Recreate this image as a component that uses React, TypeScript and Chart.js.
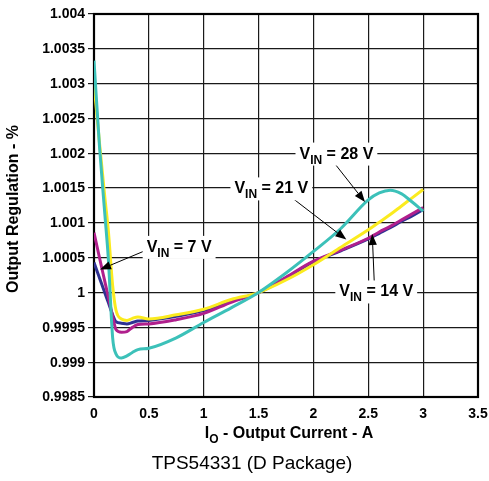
import React, { useEffect, useRef } from 'react';
import { Chart, registerables } from 'chart.js';

Chart.register(...registerables);

// Output current (A)
const currents = [0, 0.05, 0.1, 0.13, 0.17, 0.2, 0.25, 0.3, 0.35, 0.4, 0.5, 0.75, 1, 1.25, 1.5, 1.75, 2, 2.25, 2.5, 2.6, 2.7, 2.8, 2.9, 3];

// Output regulation series (%)
const vin28 = [1.00333, 1.0021, 1.0011, 1.0005, 0.99935, 0.99912, 0.99906, 0.99909, 0.99914, 0.99918, 0.9992, 0.99935, 0.99957, 0.99978, 1.0, 1.00028, 1.00059, 1.00092, 1.00133, 1.00143, 1.00147, 1.00142, 1.0013, 1.00117];
const vin21 = [1.003, 1.00215, 1.00135, 1.0009, 1.0001, 0.99975, 0.99962, 0.9996, 0.99963, 0.99965, 0.99962, 0.99968, 0.99976, 0.9999, 1.0, 1.00018, 1.0004, 1.00065, 1.0009, 1.00101, 1.00112, 1.00124, 1.00136, 1.00148];
const vin7 = [1.00043, 1.00021, 0.99999, 0.99986, 0.99968, 0.99958, 0.99956, 0.99955, 0.99957, 0.99959, 0.9996, 0.99966, 0.99974, 0.99988, 1.0, 1.00021, 1.00044, 1.0006, 1.00077, 1.00085, 1.00093, 1.00102, 1.0011, 1.00119];
const vin14 = [1.00086, 1.0005, 1.00015, 0.99994, 0.99966, 0.99947, 0.99943, 0.99944, 0.9995, 0.99954, 0.99955, 0.99961, 0.9997, 0.99986, 1.0, 1.00022, 1.00045, 1.00061, 1.00078, 1.00087, 1.00095, 1.00104, 1.00113, 1.00122];

const xTickValues = [0, 0.5, 1, 1.5, 2, 2.5, 3, 3.5];
const xTickLabels = ['0', '0.5', '1', '1.5', '2', '2.5', '3', '3.5'];
const yTickValues = [0.9985, 0.999, 0.9995, 1, 1.0005, 1.001, 1.0015, 1.002, 1.0025, 1.003, 1.0035, 1.004];
const yTickLabels = ['0.9985', '0.999', '0.9995', '1', '1.0005', '1.001', '1.0015', '1.002', '1.0025', '1.003', '1.0035', '1.004'];

// Callouts: label, text left/center (data units), arrow tail and head (data units)
const calloutLabels = ['7 V', '21 V', '28 V', '14 V'];
const calloutTextX = [0.48, 1.28, 1.873, 2.236];
const calloutTextY = [1.00067, 1.00151, 1.00201, 1.00003];
const calloutTailX = [0.464, 1.78, 2.19, 2.555];
const calloutTailY = [1.0006, 1.00139, 1.00186, 1.00013];
const calloutHeadX = [0.055, 2.3, 2.47, 2.536];
const calloutHeadY = [1.00033, 1.00076, 1.0013, 1.00084];

const FONT = '"Liberation Sans", Arial, Helvetica, sans-serif';

function drawArrow(ctx: CanvasRenderingContext2D, x1: number, y1: number, x2: number, y2: number) {
  const ang = Math.atan2(y2 - y1, x2 - x1);
  const len = 11;
  const hw = 4.2;
  const bx = x2 - len * Math.cos(ang);
  const by = y2 - len * Math.sin(ang);
  ctx.strokeStyle = '#000';
  ctx.lineWidth = 1;
  ctx.beginPath();
  ctx.moveTo(x1, y1);
  ctx.lineTo(bx, by);
  ctx.stroke();
  ctx.fillStyle = '#000';
  ctx.beginPath();
  ctx.moveTo(x2, y2);
  ctx.lineTo(bx + hw * Math.sin(ang), by - hw * Math.cos(ang));
  ctx.lineTo(bx - hw * Math.sin(ang), by + hw * Math.cos(ang));
  ctx.closePath();
  ctx.fill();
}

function drawVin(ctx: CanvasRenderingContext2D, x: number, yMid: number, rest: string) {
  const big = `bold 16px ${FONT}`;
  const small = `bold 12px ${FONT}`;
  ctx.font = big;
  const wV = ctx.measureText('V').width;
  const restText = ' = ' + rest;
  const wRest = ctx.measureText(restText).width;
  ctx.font = small;
  const wIN = ctx.measureText('IN').width;
  const total = wV + wIN + wRest;
  ctx.fillStyle = '#fff';
  ctx.fillRect(x - 4, yMid - 10, total + 8, 23);
  ctx.fillStyle = '#000';
  ctx.textAlign = 'left';
  ctx.textBaseline = 'alphabetic';
  const base = yMid + 6;
  ctx.font = big;
  ctx.fillText('V', x, base);
  ctx.font = small;
  ctx.fillText('IN', x + wV, base + 5);
  ctx.font = big;
  ctx.fillText(restText, x + wV + wIN, base);
}

const decorPlugin = {
  id: 'decor',
  beforeDatasetsDraw(chart: any) {
    const { ctx, chartArea } = chart;
    ctx.save();
    ctx.strokeStyle = '#000';
    ctx.lineWidth = 2.2;
    ctx.strokeRect(chartArea.left, chartArea.top, chartArea.right - chartArea.left, chartArea.bottom - chartArea.top);
    ctx.restore();
  },
  afterDraw(chart: any) {
    const { ctx, chartArea } = chart;
    const xs = chart.scales.x;
    const ys = chart.scales.y;
    ctx.save();
    ctx.fillStyle = '#000';
    // y tick labels
    ctx.font = `bold 14px ${FONT}`;
    ctx.textAlign = 'right';
    ctx.textBaseline = 'middle';
    yTickValues.forEach((v, i) => {
      ctx.fillText(yTickLabels[i], chartArea.left - 9, ys.getPixelForValue(v) + 0.5);
    });
    // x tick labels
    ctx.textAlign = 'center';
    ctx.textBaseline = 'alphabetic';
    xTickValues.forEach((v, i) => {
      ctx.fillText(xTickLabels[i], xs.getPixelForValue(v), chartArea.bottom + 20.5);
    });
    // x title with subscript
    const big = `bold 16px ${FONT}`;
    const small = `bold 12px ${FONT}`;
    ctx.font = big;
    const wI = ctx.measureText('I').width;
    const rest = ' - Output Current - A';
    const wRest = ctx.measureText(rest).width;
    ctx.font = small;
    const wO = ctx.measureText('O').width;
    const total = wI + wO + wRest;
    const cx = (chartArea.left + chartArea.right) / 2 + 3;
    const tx = cx - total / 2;
    const tb = chartArea.bottom + 41;
    ctx.textAlign = 'left';
    ctx.font = big;
    ctx.fillText('I', tx, tb);
    ctx.font = small;
    ctx.fillText('O', tx + wI, tb + 5);
    ctx.font = big;
    ctx.fillText(rest, tx + wI + wO, tb);
    // caption
    ctx.font = `19px ${FONT}`;
    ctx.textAlign = 'center';
    ctx.fillText('TPS54331 (D Package)', 252, chartArea.bottom + 72);
    // y title
    ctx.save();
    ctx.translate(14, 209);
    ctx.rotate(-Math.PI / 2);
    ctx.font = `bold 16px ${FONT}`;
    ctx.textAlign = 'center';
    ctx.textBaseline = 'middle';
    ctx.fillText('Output Regulation - %', 0, 0);
    ctx.restore();
    // callouts
    calloutLabels.forEach((lab, i) => {
      drawArrow(
        ctx,
        xs.getPixelForValue(calloutTailX[i]),
        ys.getPixelForValue(calloutTailY[i]),
        xs.getPixelForValue(calloutHeadX[i]),
        ys.getPixelForValue(calloutHeadY[i])
      );
    });
    calloutLabels.forEach((lab, i) => {
      drawVin(ctx, xs.getPixelForValue(calloutTextX[i]), ys.getPixelForValue(calloutTextY[i]), lab);
    });
    ctx.restore();
  },
};

function toPoints(vals: number[]) {
  return currents.map((c, i) => ({ x: c, y: vals[i] }));
}

export default function App() {
  const ref = useRef<HTMLCanvasElement | null>(null);
  useEffect(() => {
    if (!ref.current) return;
    const common = {
      borderWidth: 3,
      pointRadius: 0,
      fill: false,
      cubicInterpolationMode: 'monotone' as const,
    };
    const chart = new Chart(ref.current, {
      type: 'line',
      data: {
        datasets: [
          { label: 'VIN = 28 V', data: toPoints(vin28), borderColor: '#3cc1b9', ...common },
          { label: 'VIN = 21 V', data: toPoints(vin21), borderColor: '#fbeb1e', ...common },
          { label: 'VIN = 14 V', data: toPoints(vin14), borderColor: '#b01f8d', ...common },
          { label: 'VIN = 7 V', data: toPoints(vin7), borderColor: '#2e3192', ...common },
        ],
      },
      options: {
        responsive: false,
        animation: false,
        devicePixelRatio: 1,
        layout: { padding: { top: 14, right: 11, left: 0, bottom: 0 } },
        plugins: { legend: { display: false }, tooltip: { enabled: false } },
        scales: {
          x: {
            type: 'linear',
            min: 0,
            max: 3.5,
            afterBuildTicks: (s: any) => {
              s.ticks = xTickValues.map((v) => ({ value: v }));
            },
            afterFit: (s: any) => {
              s.height = 84;
            },
            ticks: { display: false },
            grid: { color: '#1a1a1a', lineWidth: 1.2, drawTicks: false },
            border: { display: false },
          },
          y: {
            type: 'linear',
            min: 0.9985,
            max: 1.004,
            afterBuildTicks: (s: any) => {
              s.ticks = yTickValues.map((v) => ({ value: v }));
            },
            afterFit: (s: any) => {
              s.width = 94;
            },
            ticks: { display: false },
            grid: { color: '#1a1a1a', lineWidth: 1.2, drawTicks: true, tickLength: 6 },
            border: { display: false },
          },
        },
      },
      plugins: [decorPlugin],
    });
    return () => chart.destroy();
  }, []);
  return (
    <div style={{ position: 'absolute', left: 0, top: 0, width: 489, height: 481, background: '#fff' }}>
      <canvas ref={ref} width={489} height={481} style={{ width: 489, height: 481, display: 'block' }} />
    </div>
  );
}
